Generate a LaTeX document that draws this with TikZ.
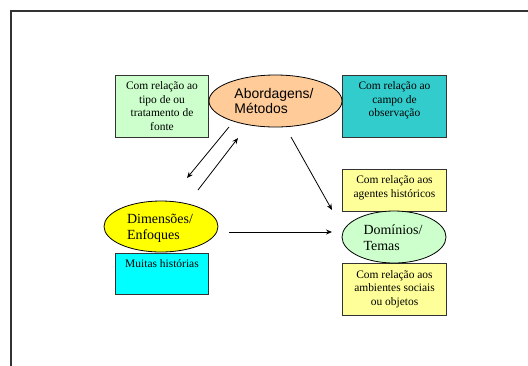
\documentclass[tikz,border=0pt]{standalone}
\usepackage{fontspec}
\setmainfont{Liberation Serif}
\setsansfont{Liberation Sans}
\usetikzlibrary{shapes.geometric,arrows.meta}
\definecolor{lgreen}{HTML}{CCFFCC}
\definecolor{teal2}{HTML}{33CCCC}
\definecolor{lyellow}{HTML}{FFFF99}
\definecolor{cyan2}{HTML}{00FFFF}
\definecolor{peach}{HTML}{FFCC99}
\definecolor{yel}{HTML}{FFFF00}
\definecolor{edge}{HTML}{333333}
\tikzset{
  boxshape/.style={draw=edge, line width=1bp, inner sep=0pt, anchor=north west},
  boxtext/.style={anchor=north, align=center, font=\fontsize{11.5}{13.5}\selectfont, inner sep=0pt},
  ellshape/.style={ellipse, draw=black, line width=0.8bp, inner sep=0pt},
  elltext/.style={align=left, inner sep=0pt, font=\fontsize{14}{16}\selectfont},
  arr/.style={-{Stealth[length=6bp,width=5bp]}, line width=0.8bp, black},
}
\begin{document}
\begin{tikzpicture}[x=1bp,y=-1bp]
\useasboundingbox (0,0) rectangle (528,365);
\fill[white] (0,0) rectangle (528,365);
% frame
\draw[line width=2bp, edge] (11,366) -- (11,11) -- (529,11);
% boxes
\node[boxshape, fill=lgreen, minimum width=93bp, minimum height=62bp] (b1) at (115,75) {};
\node[boxtext] (t1) at ([yshift=-6.5bp]b1.north) {Com relação ao\\tipo de ou\\tratamento de\\fonte};
\node[boxshape, fill=teal2, minimum width=104bp, minimum height=62bp] (b2) at (342,75) {};
\node[boxtext] (t2) at ([yshift=-6.5bp]b2.north) {Com relação ao\\campo de\\observação};
\node[boxshape, fill=lyellow, minimum width=104bp, minimum height=42bp] (b3) at (342,169) {};
\node[boxtext] (t3) at ([yshift=-6.5bp]b3.north) {Com relação aos\\agentes históricos};
\node[boxshape, fill=lyellow, minimum width=104bp, minimum height=52bp] (b4) at (342,263) {};
\node[boxtext] (t4) at ([yshift=-7bp]b4.north) {Com relação aos\\ambientes sociais\\ou objetos};
\node[boxshape, fill=cyan2, minimum width=93bp, minimum height=41bp] (b5) at (115,253) {};
\node[boxtext] (t5) at ([yshift=-6bp]b5.north) {Muitas histórias};
% ellipses
\node[ellshape, fill=peach, minimum width=133bp, minimum height=52bp] (e1) at (275.5,101) {};
\node[elltext, font=\sffamily\fontsize{14}{16}\selectfont] (et1) at (274,101) {Abordagens/\\Métodos};
\node[ellshape, fill=yel, minimum width=114bp, minimum height=51bp] (e2) at (161,226.5) {};
\node[elltext] (et2) at (160,228) {Dimensões/\\Enfoques};
\node[ellshape, fill=lgreen, minimum width=104bp, minimum height=52bp] (e3) at (394,237) {};
\node[elltext] (et3) at (393,238) {Domínios/\\Temas};
% arrows
\coordinate (a1s) at (229,127);
\coordinate (a1e) at (187,178);
\coordinate (a2s) at (198,190);
\coordinate (a2e) at (238,138);
\coordinate (a3s) at (291,137);
\coordinate (a3e) at (332,210);
\coordinate (a4s) at (229,232);
\coordinate (a4e) at (332,232);
\draw[arr] (a1s) -- (a1e);
\draw[arr] (a2s) -- (a2e);
\draw[arr] (a3s) -- (a3e);
\draw[arr] (a4s) -- (a4e);
\end{tikzpicture}
\end{document}
